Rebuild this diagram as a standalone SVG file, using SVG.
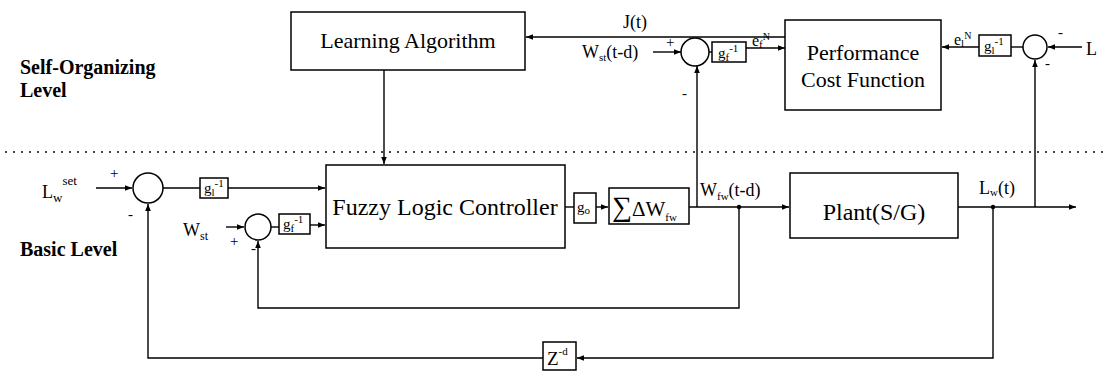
<svg xmlns="http://www.w3.org/2000/svg" width="1108" height="373" viewBox="0 0 1108 373">
<defs>
<marker id="ah" viewBox="0 0 10 10" refX="10" refY="5" markerWidth="7" markerHeight="7" markerUnits="userSpaceOnUse" orient="auto"><path d="M0,1 L10,5 L0,9 z" fill="#000"/></marker>
<style>
.b{fill:#fff;stroke:#000;stroke-width:1.5}
.c{fill:none;stroke:#000;stroke-width:1.5}
.l{fill:none;stroke:#000;stroke-width:1.4}
.a{fill:none;stroke:#000;stroke-width:1.4;marker-end:url(#ah)}
text{font-family:"Liberation Serif","Times New Roman",serif;fill:#000}
.t{font-size:22px;text-anchor:middle}
.big{font-size:24px;text-anchor:middle}
.s{font-size:18px}
.sub{font-size:11px}
.lbl{font-size:20px;font-weight:bold}
.sg{font-size:15px}
</style>
</defs>
<rect width="1108" height="373" fill="#fff"/>
<text class="lbl" x="20" y="74">Self-Organizing</text>
<text class="lbl" x="20" y="97">Level</text>
<text class="lbl" x="20" y="256">Basic Level</text>
<line x1="5" y1="152" x2="1105" y2="152" stroke="#000" stroke-width="1.5" stroke-dasharray="2,6"/>

<g id="connectors">
<line class="a" x1="785" y1="37" x2="526" y2="37"/>
<line class="a" x1="384" y1="70" x2="384" y2="164"/>
<line class="a" x1="653" y1="52" x2="681" y2="52"/>
<line class="l" x1="709" y1="52" x2="712" y2="52"/>
<line class="a" x1="746" y1="48" x2="785" y2="48"/>
<line class="a" x1="979" y1="47" x2="942" y2="47"/>
<line class="l" x1="1011" y1="47" x2="1023" y2="47"/>
<line class="a" x1="1082" y1="47" x2="1048" y2="47"/>
<line class="a" x1="96" y1="188" x2="132" y2="188"/>
<line class="l" x1="163" y1="188" x2="200" y2="188"/>
<line class="a" x1="228" y1="188" x2="325" y2="188"/>
<line class="a" x1="226" y1="227" x2="244" y2="227"/>
<line class="l" x1="271" y1="227" x2="279" y2="227"/>
<line class="a" x1="310" y1="225" x2="325" y2="225"/>
<line class="l" x1="565" y1="207" x2="574" y2="207"/>
<line class="a" x1="596" y1="207" x2="608" y2="207"/>
<line class="a" x1="689" y1="207" x2="789" y2="207"/>
<line class="a" x1="697" y1="207" x2="697" y2="66"/>
<line class="a" x1="958" y1="207" x2="1076" y2="207"/>
<line class="a" x1="1035" y1="207" x2="1035" y2="60"/>
<polyline class="a" points="739,207 739,308 258,308 258,241"/>
<polyline class="a" points="993,207 993,358 577,358"/>
<polyline class="a" points="543,358 148,358 148,204"/>
<circle cx="739" cy="207" r="2.2" fill="#000"/>
<circle cx="993" cy="207" r="2.2" fill="#000"/>
</g>

<g id="learning"><rect class="b" x="291" y="12" width="234" height="58"/><text class="t" x="408" y="48">Learning Algorithm</text></g>
<g id="performance"><rect class="b" x="785" y="20" width="156" height="90"/><text class="t" x="863" y="60">Performance</text><text class="t" x="863" y="87">Cost Function</text></g>
<g id="jt"><text class="s" x="623" y="28" font-size="20">J(t)</text></g>

<g id="sum-top"><circle class="c" cx="695" cy="52" r="14"/>
<text class="s" x="582" y="58" font-size="19">W<tspan class="sub" dy="3">st</tspan><tspan dy="-3">(t-d)</tspan></text>
<text class="sg" x="666" y="47">+</text><text class="sg" x="682" y="98">-</text></g>
<g id="gf-top"><rect class="b" x="712" y="42" width="34" height="20"/><text class="sg" x="718" y="58">g<tspan class="sub" dy="3">f</tspan><tspan class="sub" dy="-9">-1</tspan></text></g>
<g id="efN"><text x="752" y="46" font-size="16">e<tspan class="sub" dy="2">f</tspan><tspan font-size="10" dy="-8">N</tspan></text></g>

<g id="sum-right"><circle class="c" cx="1035" cy="47" r="12"/>
<text class="s" x="1086" y="55" font-size="21">L</text>
<text class="sg" x="1058" y="37">-</text><text class="sg" x="1045" y="68">-</text></g>
<g id="gl-top"><rect class="b" x="979" y="35" width="32" height="21"/><text class="sg" x="984" y="51">g<tspan class="sub" dy="3">l</tspan><tspan class="sub" dy="-9">-1</tspan></text></g>
<g id="elN"><text x="954" y="45" font-size="16">e<tspan class="sub" dy="2">l</tspan><tspan font-size="10" dy="-8">N</tspan></text></g>

<g id="sum-1"><circle class="c" cx="148" cy="188" r="15"/>
<text class="s" x="42" y="198" font-size="21">L<tspan font-size="13" dy="4">w</tspan><tspan font-size="13" dy="-17">set</tspan></text>
<text class="sg" x="110" y="178">+</text><text class="sg" x="128" y="219">-</text></g>
<g id="gl-1"><rect class="b" x="200" y="178" width="28" height="20"/><text class="sg" x="204" y="193">g<tspan class="sub" dy="3">l</tspan><tspan class="sub" dy="-9">-1</tspan></text></g>

<g id="sum-2"><circle class="c" cx="258" cy="227" r="13"/>
<text class="s" x="183" y="236" font-size="21">W<tspan font-size="12" dy="4">st</tspan></text>
<text class="sg" x="230" y="246">+</text><text class="sg" x="251" y="253">-</text></g>
<g id="gf-1"><rect class="b" x="279" y="214" width="31" height="20"/><text class="sg" x="283" y="229">g<tspan class="sub" dy="3">f</tspan><tspan class="sub" dy="-9">-1</tspan></text></g>

<g id="flc"><rect class="b" x="326" y="165" width="239" height="83"/><text class="big" x="445" y="215">Fuzzy Logic Controller</text></g>
<g id="go"><rect class="b" x="574" y="193" width="22" height="30"/><text class="sg" x="577" y="212">g<tspan class="sub" dy="2">o</tspan></text></g>
<g id="sum-dw"><rect class="b" x="609" y="188" width="80" height="36"/><text x="612" y="216" font-size="28">∑<tspan font-size="21">ΔW</tspan><tspan class="sub" dy="5">fw</tspan></text></g>
<g id="wfw"><text class="s" x="700" y="196">W<tspan class="sub" dy="4">fw</tspan><tspan dy="-4">(t-d)</tspan></text></g>
<g id="plant"><rect class="b" x="790" y="173" width="168" height="65"/><text class="big" x="874" y="220">Plant(S/G)</text></g>
<g id="lwt"><text class="s" x="979" y="194">L<tspan class="sub" dy="2">w</tspan><tspan dy="-2">(t)</tspan></text></g>
<g id="zd"><rect class="b" x="543" y="342" width="33" height="28"/><text x="547" y="365" font-size="19">Z<tspan class="sub" dy="-10">-d</tspan></text></g>
</svg>
